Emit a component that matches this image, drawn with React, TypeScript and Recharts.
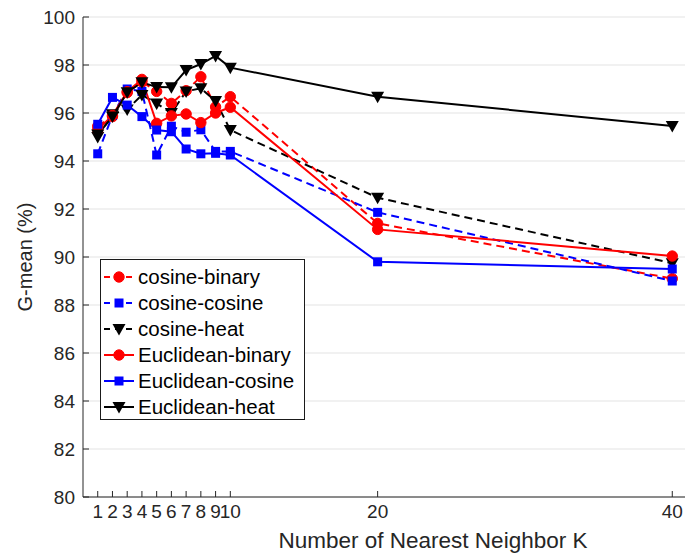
import { LineChart, Line, XAxis, YAxis, CartesianGrid } from "recharts";

// K values on the x axis
const kValues = [1, 2, 3, 4, 5, 6, 7, 8, 9, 10, 20, 40];

// G-mean (%) per K for each distance / weighting combination
const cosineBinary = [95.45, 95.85, 96.85, 97.3, 96.9, 96.4, 96.93, 97.51, 96.25, 96.68, 91.4, 89.1];
const cosineCosine = [94.3, 95.9, 97.0, 96.9, 94.25, 95.45, 95.2, 95.3, 94.4, 94.4, 91.86, 89.0];
const cosineHeat = [95.0, 95.95, 96.15, 96.75, 96.4, 96.0, 96.9, 97.03, 96.5, 95.29, 92.47, 89.74];
const euclideanBinary = [95.3, 95.9, 96.89, 97.4, 95.57, 95.88, 95.96, 95.6, 96.0, 96.24, 91.15, 90.04];
const euclideanCosine = [95.53, 96.65, 96.33, 95.85, 95.29, 95.22, 94.5, 94.3, 94.32, 94.25, 89.8, 89.5];
const euclideanHeat = [95.1, 95.85, 96.86, 97.28, 97.08, 97.07, 97.79, 98.04, 98.38, 97.89, 96.68, 95.46];

const xTicks = [1, 2, 3, 4, 5, 6, 7, 8, 9, 10, 20, 40];
const yTicks = [80, 82, 84, 86, 88, 90, 92, 94, 96, 98, 100];

type Shape = "circle" | "square" | "triangle";

const series: { key: string; name: string; color: string; dashed: boolean; shape: Shape; values: number[] }[] = [
  { key: "cosineBinary", name: "cosine-binary", color: "#ff0000", dashed: true, shape: "circle", values: cosineBinary },
  { key: "cosineCosine", name: "cosine-cosine", color: "#0000ff", dashed: true, shape: "square", values: cosineCosine },
  { key: "cosineHeat", name: "cosine-heat", color: "#000000", dashed: true, shape: "triangle", values: cosineHeat },
  { key: "euclideanBinary", name: "Euclidean-binary", color: "#ff0000", dashed: false, shape: "circle", values: euclideanBinary },
  { key: "euclideanCosine", name: "Euclidean-cosine", color: "#0000ff", dashed: false, shape: "square", values: euclideanCosine },
  { key: "euclideanHeat", name: "Euclidean-heat", color: "#000000", dashed: false, shape: "triangle", values: euclideanHeat },
];

const data = kValues.map((k, i) => {
  const row: Record<string, number> = { k };
  series.forEach((s) => (row[s.key] = s.values[i]));
  return row;
});

const FONT = "'Liberation Sans', Arial, Helvetica, sans-serif";
const AXIS = "#262626";
const DASH = "8 5";

function Marker({ cx, cy, shape, color }: { cx: number; cy: number; shape: Shape; color: string }) {
  if (cx == null || cy == null) return null;
  if (shape === "circle") return <circle cx={cx} cy={cy} r={5.2} fill={color} stroke={color} />;
  if (shape === "square") return <rect x={cx - 4.5} y={cy - 4.5} width={9} height={9} fill={color} />;
  return <polygon points={`${cx - 6.5},${cy - 5} ${cx + 6.5},${cy - 5} ${cx},${cy + 6.5}`} fill={color} />;
}

function LegendBox() {
  const rowH = 26;
  return (
    <div style={{ position: "absolute", left: 100, top: 259, width: 205, height: 161, background: "#fff", border: "1px solid #1a1a1a", boxSizing: "border-box" }}>
      <svg width={203} height={159}>
        {series.map((s, i) => {
          const y = 17 + i * rowH;
          return (
            <g key={s.key}>
              <line x1={3} x2={33} y1={y} y2={y} stroke={s.color} strokeWidth={2} strokeDasharray={s.dashed ? "6 5" : undefined} />
              <Marker cx={18} cy={y} shape={s.shape} color={s.color} />
              <text x={37} y={y + 7} fontFamily={FONT} fontSize={20.5} fill="#000">
                {s.name}
              </text>
            </g>
          );
        })}
      </svg>
    </div>
  );
}

export default function App() {
  return (
    <div style={{ position: "absolute", left: 0, top: 0, width: 685, height: 555, overflow: "hidden", background: "#fff" }}>
      <LineChart width={700} height={555} data={data} margin={{ top: 17, right: 13, left: 0, bottom: 0 }}>
        <CartesianGrid vertical={false} stroke="#e3e3e3" strokeWidth={1} />
        <XAxis
          dataKey="k"
          type="number"
          domain={[0, 41]}
          ticks={xTicks}
          interval={0}
          height={58}
          tickSize={-6}
          tickMargin={14}
          stroke={AXIS}
          tick={{ fill: AXIS, fontSize: 19, fontFamily: FONT }}
          label={{ value: "Number of Nearest Neighbor K", position: "insideBottom", offset: 7, dx: 48, fill: AXIS, fontSize: 22.5, fontFamily: FONT }}
        />
        <XAxis xAxisId="top" orientation="top" type="number" domain={[0, 41]} ticks={xTicks} interval={0} height={0} tickSize={-6} tick={false} stroke={AXIS} />
        <YAxis
          type="number"
          domain={[80, 100]}
          ticks={yTicks}
          interval={0}
          width={83}
          tickSize={-6}
          tickMargin={14}
          stroke={AXIS}
          tick={{ fill: AXIS, fontSize: 19, fontFamily: FONT }}
          label={{ value: "G-mean (%)", angle: -90, position: "insideLeft", offset: 25, fill: AXIS, fontSize: 20, fontFamily: FONT, style: { textAnchor: "middle" } }}
        />
        <YAxis yAxisId="right" orientation="right" type="number" domain={[80, 100]} ticks={yTicks} interval={0} width={0} tickSize={-6} tick={false} stroke={AXIS} />
        {series.map((s) => (
          <Line
            key={s.key}
            dataKey={s.key}
            name={s.name}
            stroke={s.color}
            strokeWidth={2}
            strokeDasharray={s.dashed ? DASH : undefined}
            isAnimationActive={false}
            dot={(p: any) => <Marker key={`${s.key}-${p.index}`} cx={p.cx} cy={p.cy} shape={s.shape} color={s.color} />}
            activeDot={false}
          />
        ))}
      </LineChart>
      <LegendBox />
    </div>
  );
}
